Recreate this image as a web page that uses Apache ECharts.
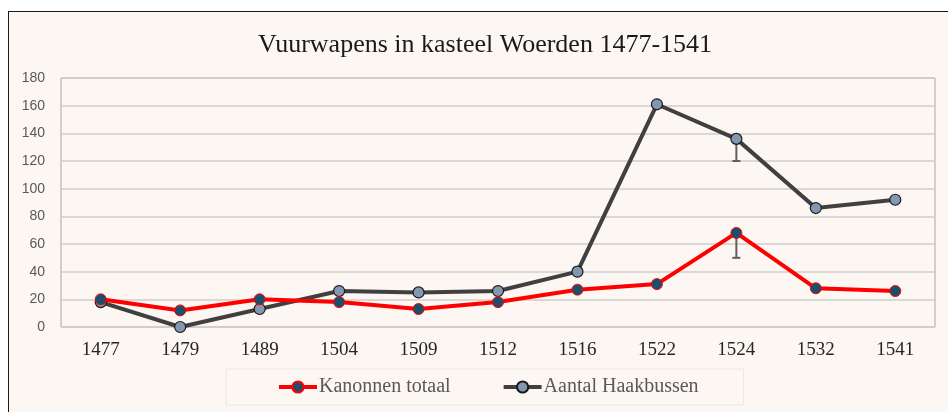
<!DOCTYPE html>
<html>
<head>
<meta charset="utf-8">
<script src="https://cdn.jsdelivr.net/npm/echarts@6/dist/echarts.min.js"></script>
<style>
  html, body { margin: 0; padding: 0; background: #ffffff; overflow: hidden; }
  #frame {
    position: absolute; left: 8px; top: 11px; width: 960px; height: 420px;
    background: #fcf7f3; border-left: 1.5px solid #1a1a1a; border-top: 1.5px solid #1a1a1a;
  }
  #chart { position: absolute; left: 0; top: 0; width: 948px; height: 412px; }
</style>
</head>
<body>
<div id="frame"></div>
<div id="chart"></div>
<script>
// jaartallen
const years = ['1477', '1479', '1489', '1504', '1509', '1512', '1516', '1522', '1524', '1532', '1541'];
// aantallen per jaar
const kanonnen = [20, 12, 20, 18, 13, 18, 27, 31, 68, 28, 26];
const haakbussen = [18, 0, 13, 26, 25, 26, 40, 161, 136, 86, 92];
// foutbalken (alleen naar beneden)
const errKanonnen = [null, null, null, null, null, null, null, null, 18, null, null];
const errHaakbussen = [null, null, null, null, null, null, null, null, 16, null, null];
const yTicks = { min: 0, max: 180, interval: 20 };

const errData = [];
years.forEach((y, i) => {
  if (errKanonnen[i] != null) errData.push([i, kanonnen[i], kanonnen[i] - errKanonnen[i]]);
  if (errHaakbussen[i] != null) errData.push([i, haakbussen[i], haakbussen[i] - errHaakbussen[i]]);
});

const renderErr = (params, api) => {
  const top = api.coord([api.value(0), api.value(1)]);
  const bot = api.coord([api.value(0), api.value(2)]);
  const st = { stroke: '#5f5f5f', lineWidth: 2 };
  return {
    type: 'group',
    children: [
      { type: 'line', shape: { x1: top[0], y1: top[1], x2: bot[0], y2: bot[1] }, style: st },
      { type: 'line', shape: { x1: bot[0] - 4, y1: bot[1], x2: bot[0] + 4, y2: bot[1] }, style: st }
    ]
  };
};

const chart = echarts.init(document.getElementById('chart'));
chart.setOption({
  backgroundColor: 'transparent',
  animation: false,
  title: {
    text: 'Vuurwapens in kasteel Woerden 1477-1541',
    left: 480,
    textAlign: 'center',
    top: 27,
    textStyle: { fontFamily: 'Liberation Serif', fontSize: 26, fontWeight: 'normal', color: '#1a1a1a' }
  },
  legend: {
    data: ['Kanonnen totaal', 'Aantal Haakbussen'],
    left: 226,
    top: 369,
    padding: [8, 45, 8, 51],
    itemGap: 51,
    itemWidth: 38,
    itemHeight: 14,
    backgroundColor: '#fcf7f3',
    borderColor: '#ebe6e2',
    borderWidth: 1,
    lineStyle: { width: 4 },
    textStyle: { fontFamily: 'Liberation Serif', fontSize: 20, color: '#595959', padding: [0, 0, 0, -3] }
  },
  grid: {
    left: 61, right: 13, top: 78, bottom: 85,
    show: true, borderColor: '#a6a6a6', borderWidth: 1
  },
  xAxis: {
    type: 'category',
    data: years,
    boundaryGap: true,
    axisLine: { show: false },
    axisTick: { show: false },
    axisLabel: { fontFamily: 'Liberation Serif', fontSize: 19, color: '#262626', margin: 14 }
  },
  yAxis: {
    type: 'value',
    min: yTicks.min, max: yTicks.max, interval: yTicks.interval,
    axisLine: { show: false },
    axisTick: { show: false },
    splitLine: { lineStyle: { color: '#d0cdca', width: 1.5 } },
    axisLabel: { fontFamily: 'Liberation Sans', fontSize: 14, color: '#595959', margin: 16 }
  },
  series: [
    {
      name: 'Kanonnen totaal',
      type: 'line',
      data: kanonnen,
      symbol: 'circle',
      symbolSize: 11,
      z: 3,
      lineStyle: { color: '#ff0000', width: 4 },
      itemStyle: { color: '#1b4f6b', borderColor: '#ff0000', borderWidth: 1 }
    },
    {
      name: 'Aantal Haakbussen',
      type: 'line',
      data: haakbussen,
      symbol: 'circle',
      symbolSize: 11,
      z: 2,
      lineStyle: { color: '#404040', width: 4 },
      itemStyle: { color: '#8497b0', borderColor: '#1a1a1a', borderWidth: 1.2 }
    },
    {
      name: 'fout',
      type: 'custom',
      renderItem: renderErr,
      data: errData,
      z: 1,
      silent: true
    }
  ]
});
</script>
</body>
</html>
